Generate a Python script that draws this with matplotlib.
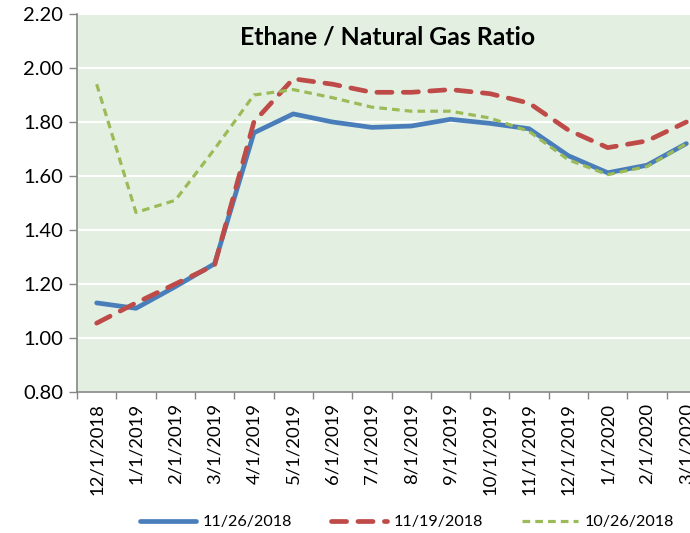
import matplotlib.pyplot as plt
import numpy as np

plt.rcParams['font.family'] = ['Lato', 'DejaVu Sans']

dates = ['12/1/2018', '1/1/2019', '2/1/2019', '3/1/2019', '4/1/2019', '5/1/2019',
         '6/1/2019', '7/1/2019', '8/1/2019', '9/1/2019', '10/1/2019', '11/1/2019',
         '12/1/2019', '1/1/2020', '2/1/2020', '3/1/2020']

ratio_1126 = [1.13, 1.11, 1.19, 1.275, 1.76, 1.83, 1.80, 1.78, 1.785, 1.81,
              1.795, 1.775, 1.675, 1.612, 1.64, 1.72]
ratio_1119 = [1.055, 1.13, 1.20, 1.27, 1.80, 1.96, 1.94, 1.91, 1.91, 1.92,
              1.905, 1.87, 1.77, 1.705, 1.73, 1.80]
ratio_1026 = [1.94, 1.465, 1.51, 1.70, 1.90, 1.92, 1.89, 1.855, 1.84, 1.84,
              1.815, 1.765, 1.66, 1.605, 1.635, 1.72]

fig = plt.figure(figsize=(6.9, 5.33), dpi=100)
ax = fig.add_axes([77/690, 1-392/533, 629/690, 378/533])
ax.set_facecolor('#E3F0E1')

x = np.arange(len(dates))
ax.plot(x, ratio_1126, color='#4A7EBB', lw=3.4, solid_capstyle='round',
        solid_joinstyle='round', label='11/26/2018', zorder=3)
ax.plot(x, ratio_1119, color='#BE4B48', lw=3.4, linestyle=(0, (3.2, 2.4)),
        dash_capstyle='round', label='11/19/2018', zorder=4)
ax.plot(x, ratio_1026, color='#9BBB59', lw=2.3, linestyle=(0, (2.4, 1.6)),
        dash_capstyle='butt', label='10/26/2018', zorder=5)

ax.set_xlim(-0.5, 15.5)
ax.set_ylim(0.8, 2.2)
ax.set_yticks(np.arange(0.8, 2.21, 0.2))
ax.set_yticklabels(['%.2f' % v for v in np.arange(0.8, 2.21, 0.2)], fontsize=14.5)
ax.grid(axis='y', color='white', lw=1.5)
ax.set_axisbelow(True)

ax.set_xticks(np.arange(-0.5, 15.6, 1))
ax.set_xticklabels([])
ax.set_xticks(x, minor=True)
ax.set_xticklabels(dates, minor=True, rotation=90, fontsize=13.3)
ax.tick_params(axis='x', which='major', length=5, color='#868686', width=1)
ax.tick_params(axis='x', which='minor', length=0, pad=8)
ax.tick_params(axis='y', length=6, color='#868686', width=1, pad=4)

for s in ['top', 'right']:
    ax.spines[s].set_visible(False)
for s in ['left', 'bottom']:
    ax.spines[s].set_color('#868686')
    ax.spines[s].set_linewidth(1.2)

fig.text(388/690, 1-37/533, 'Ethane / Natural Gas Ratio', ha='center', va='center',
         fontsize=17.8, fontweight='bold')

fig.legend(loc='center', bbox_to_anchor=(407/690, 1-522/533), ncol=3, frameon=False,
           fontsize=11.6, handlelength=3.5, columnspacing=2.4, handletextpad=0.4)

fig.savefig('out.png', dpi=100)
